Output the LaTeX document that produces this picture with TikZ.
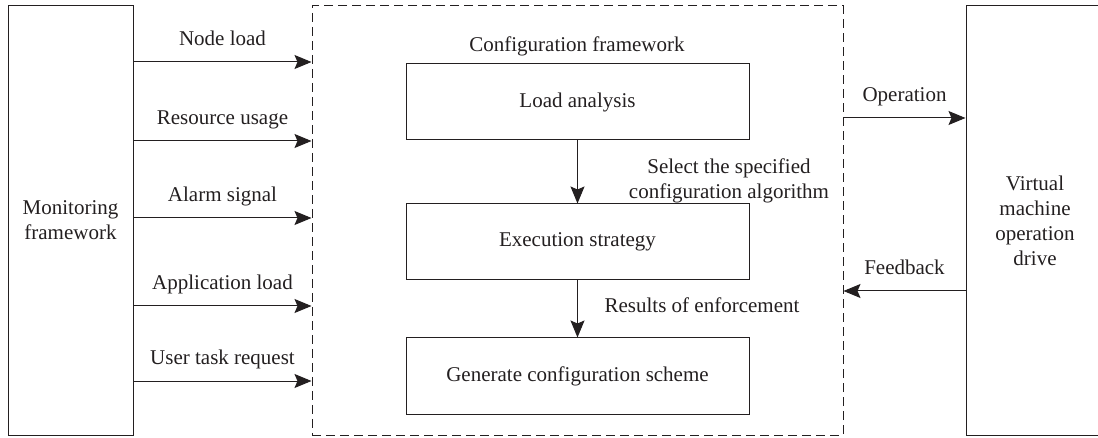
\documentclass[tikz,border=0pt]{standalone}
\usepackage{fontspec}
\setmainfont{Liberation Serif}
\usetikzlibrary{arrows.meta, positioning}
\definecolor{inkgray}{HTML}{231F20}
\newcommand{\stepwidth}{343pt}
\newcommand{\stepheight}{76pt}
\newcommand{\sideheight}{429pt}
\tikzstyle{sidebox} = [% outer framework node
  rectangle,
  minimum height=\sideheight,
  align=center,
  draw=inkgray,
  line width=1pt
  ]
\tikzstyle{framebox} = [% dashed configuration frame
  rectangle,
  minimum width=531pt,
  minimum height=\sideheight,
  draw=inkgray,
  line width=1pt,
  dash pattern=on 9pt off 5pt
  ]
\tikzstyle{process} = [% process node
  rectangle,
  minimum width=\stepwidth,
  minimum height=\stepheight,
  text centered,
  draw=inkgray,
  line width=1pt
  ]
\tikzstyle{arrowtext} = [% arrow text
  inner sep=0pt,
  text depth=0pt,
  above=16pt
  ]
\tikzstyle{arrow} = [% arrow format
  draw=inkgray,
  line width=1pt,
  -{Stealth[length=17pt, width=14pt, inset=3pt]}
  ]

\begin{document}
\begin{tikzpicture}[x=1pt, y=-1pt, node distance=1cm,
  font=\fontsize{21}{25}\selectfont, text=inkgray]
\useasboundingbox (0,0) rectangle (1098,438);

%%% Nodes
\node[sidebox, minimum width=125pt] (monitor) at (70.5,220.5) {Monitoring\\framework};
\node[framebox] (frame) at (577.5,220.5) {};
\node[sidebox, minimum width=138pt] (vmdrive) at (1035,220.5) {Virtual\\machine\\operation\\drive};
\node[anchor=base] (frametitle) at (577,52) {Configuration framework};
\node[process] (load) at (577.5,102) {Load analysis};
\node[process] (exec) [below=63pt of load] {Execution strategy};
\node[process] (gen) [below=57pt of exec] {Generate configuration scheme};
\node[align=center] (select) at (729,181) {Select the specified\\configuration algorithm};
\node[anchor=base] (results) at (702,313) {Results of enforcement};

%%% Arrows
\foreach \y/\txt in {62/Node load, 141/Resource usage, 218/Alarm signal,
  306/Application load, 381/User task request}
  \draw[arrow] (monitor.east |- 0,\y) -- (frame.west |- 0,\y)
    node[arrowtext, midway] {\txt};
\draw[arrow] (load) -- (exec);
\draw[arrow] (exec) -- (gen);
\draw[arrow] (frame.east |- 0,118) -- (vmdrive.west |- 0,118)
  node[arrowtext, midway] {Operation};
\draw[arrow] (vmdrive.west |- 0,291) -- (frame.east |- 0,291)
  node[arrowtext, midway] {Feedback};

\end{tikzpicture}
\end{document}
